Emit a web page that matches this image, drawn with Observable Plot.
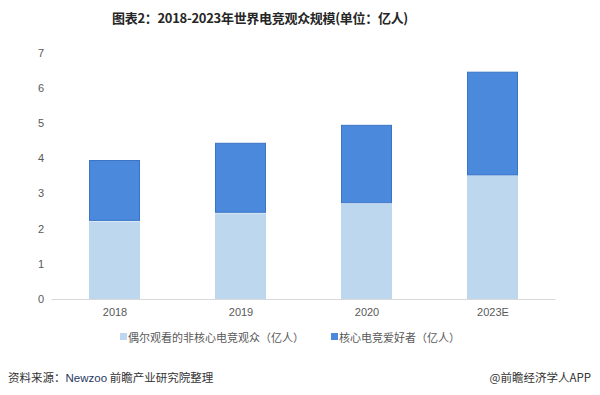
<!DOCTYPE html>
<html>
<head>
<meta charset="utf-8">
<script src="https://cdn.jsdelivr.net/npm/d3@7"></script>
<script src="https://cdn.jsdelivr.net/npm/@observablehq/plot@0.6"></script>
<style>
  html, body { margin: 0; padding: 0; background: #fff; }
  #wrap { position: relative; width: 600px; height: 395px; overflow: hidden; font-family: "Liberation Sans", "Noto Sans CJK SC", sans-serif; }
  #title { position: absolute; top: 8px; left: 0; width: 520px; text-align: center; font-family: "Noto Sans CJK SC", sans-serif; font-weight: bold; font-size: 13px; color: #262626; letter-spacing: -0.3px; }
  #chart { position: absolute; top: 36px; left: 0; }
  #legend { position: absolute; top: 327px; left: 120px; font-size: 11px; color: #595959; font-family: "Noto Sans CJK SC", sans-serif; white-space: nowrap; }
  #legend span.item { display: inline-flex; align-items: center; }
  #legend span.sw { display: inline-block; width: 7px; height: 7px; margin-right: 1px; }
  #src { position: absolute; top: 369px; left: 8px; font-size: 11.5px; color: #333; font-family: "Noto Sans CJK SC", sans-serif; }
  #src .nz { color: #1f3864; font-family: "Liberation Sans", sans-serif; }
  #brand { position: absolute; top: 369px; right: 9px; font-size: 11.5px; color: #333; font-family: "Noto Sans CJK SC", sans-serif; }
</style>
</head>
<body>
<div id="wrap">
  <div id="title"></div>
  <div id="chart"></div>
  <div id="legend"></div>
  <div id="src"></div>
  <div id="brand"></div>
</div>
<script>
const titleText = "图表2：2018-2023年世界电竞观众规模(单位：亿人)";
const years = ["2018", "2019", "2020", "2023E"];
const casualName = "偶尔观看的非核心电竞观众（亿人）";
const coreName = "核心电竞爱好者（亿人）";
const casual = [2.22, 2.45, 2.72, 3.51];
const core = [1.73, 1.99, 2.23, 2.95];
const yTicks = [0, 1, 2, 3, 4, 5, 6, 7];
const sourceLabel = "资料来源：";
const sourceOrg = "Newzoo";
const sourceRest = " 前瞻产业研究院整理";
const brandText = "@前瞻经济学人APP";

const lightColor = "#bdd7ee";
const darkColor = "#4a89dc";
const darkStroke = "#3a74c4";

const rows = years.map((y, i) => ({year: y, casual: casual[i], core: core[i], total: casual[i] + core[i]}));

document.getElementById("title").textContent = titleText;

const plot = Plot.plot({
  width: 600,
  height: 300,
  marginLeft: 51.5,
  marginRight: 44.5,
  marginTop: 16.7,
  marginBottom: 37,
  style: { fontFamily: "'Liberation Sans', 'Noto Sans CJK SC', sans-serif", fontSize: "11px", color: "#595959", background: "transparent" },
  x: { domain: years, paddingInner: 0.595, paddingOuter: 0.2975, label: null },
  y: { domain: [0, 7], label: null },
  marks: [
    Plot.axisY({ ticks: yTicks, tickFormat: d => String(d), tickSize: 0, tickPadding: 8, fill: "#595959", fontSize: 11, label: null }),
    Plot.axisX({ tickSize: 0, tickPadding: 9, fill: "#595959", fontSize: 11, label: null }),
    Plot.barY(rows, { x: "year", y1: 0, y2: "casual", fill: lightColor, insetTop: 0.5 }),
    Plot.barY(rows, { x: "year", y1: "casual", y2: "total", fill: darkColor, stroke: darkStroke, strokeWidth: 1, inset: 0.5 }),
    Plot.ruleY([0], { stroke: "#d9d9d9", strokeWidth: 1 })
  ]
});
document.getElementById("chart").appendChild(plot);

const legend = document.getElementById("legend");
[[casualName, lightColor], [coreName, darkColor]].forEach(([name, col], i) => {
  const item = document.createElement("span");
  item.className = "item";
  if (i > 0) item.style.marginLeft = "27px";
  const sw = document.createElement("span");
  sw.className = "sw";
  sw.style.background = col;
  item.appendChild(sw);
  const t = document.createElement("span");
  t.textContent = name;
  item.appendChild(t);
  legend.appendChild(item);
});

const src = document.getElementById("src");
src.appendChild(document.createTextNode(sourceLabel));
const nz = document.createElement("span");
nz.className = "nz";
nz.textContent = sourceOrg;
src.appendChild(nz);
src.appendChild(document.createTextNode(sourceRest));
document.getElementById("brand").textContent = brandText;
</script>
</body>
</html>
